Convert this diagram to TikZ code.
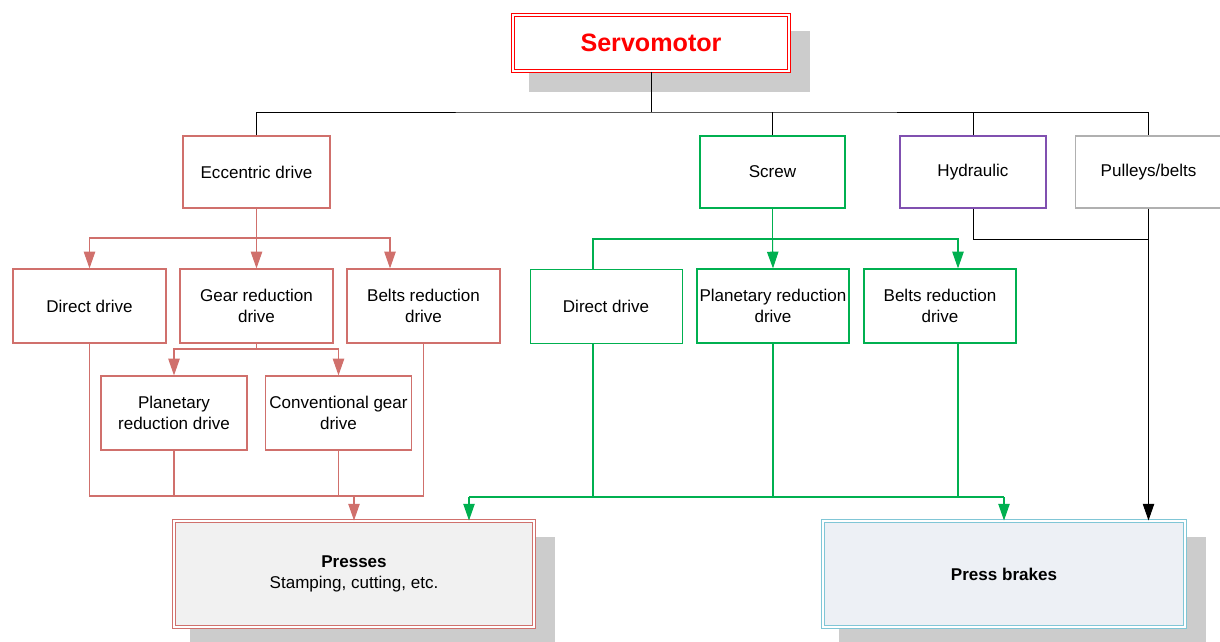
\documentclass[tikz,border=0pt]{standalone}
\usepackage{fontspec}
\setmainfont{Liberation Sans}
\usepackage{tikz}
\usetikzlibrary{shapes,arrows,arrows.meta,shadows}

\definecolor{eccred}{RGB}{208,112,108}
\definecolor{scrgreen}{RGB}{0,176,80}
\definecolor{hydpurple}{RGB}{128,80,176}
\definecolor{pulgray}{RGB}{176,176,176}
\definecolor{brkblue}{RGB}{128,198,214}
\definecolor{brkfill}{RGB}{237,240,245}
\definecolor{prsfill}{RGB}{241,241,241}
\definecolor{shadegray}{RGB}{204,204,204}

\begin{document}
\begin{tikzpicture}[x=0.02cm, y=-0.02cm,
    box/.style={draw, rectangle, line width=0.7pt, fill=white, align=center, inner sep=1pt,
        minimum width=2.94cm, minimum height=1.44cm, font=\fontsize{9.7}{11.8}\selectfont},
    ecbox/.style={box, draw=eccred},
    ecsub/.style={ecbox, minimum width=3.06cm, minimum height=1.48cm},
    scbox/.style={box, draw=scrgreen},
    scsub/.style={scbox, minimum width=3.04cm, minimum height=1.48cm},
    hybox/.style={box, draw=hydpurple},
    pubox/.style={box, draw=pulgray},
    shade/.style={drop shadow={shadow xshift=0.37cm, shadow yshift=-0.37cm,
        fill=shadegray, draw=shadegray, line width=2.4pt, opacity=1}},
    bigbox/.style={rectangle, shade, line width=0.6pt, double distance=1.2pt, align=center,
        minimum width=7.2cm, minimum height=2.12cm, font=\fontsize{9.7}{11.8}\selectfont},
    tip/.tip={Triangle[width=6.5pt, length=9.5pt]},
    tline/.style={draw=black, line width=0.5pt},
    eline/.style={draw=eccred, line width=0.6pt, -tip},
    gline/.style={draw=scrgreen, line width=0.6pt, -tip}]
    \useasboundingbox (0,0) rectangle (1220,642);

    % top level
    \node[rectangle, shade, draw=red, double=white, line width=0.6pt, double distance=1.2pt,
        fill=white, minimum width=5.52cm, minimum height=1.12cm,
        font=\fontsize{14.3}{16}\selectfont\bfseries, text=red] (servo) at (651,43) {Servomotor};
    \node[ecbox] (ecc) at (256.5,172) {Eccentric drive};
    \node[scbox, minimum width=2.9cm] (screw) at (772.5,172) {Screw};
    \node[hybox, minimum width=2.92cm] (hyd) at (973,172) {Hydraulic};
    \node[pubox, minimum width=2.92cm] (pul) at (1148.5,172) {Pulleys/belts};

    % eccentric drive branch
    \node[ecsub] (dd1) at (89.5,306) {Direct drive};
    \node[ecsub] (grd) at (256.5,306) {Gear reduction\\drive};
    \node[ecsub] (brd1) at (423.5,306) {Belts reduction\\drive};
    \node[ecsub, minimum width=2.92cm] (plan1) at (174,413) {Planetary\\reduction drive};
    \node[ecsub, minimum width=2.92cm] (conv) at (338.5,413) {Conventional gear\\drive};

    % screw branch
    \node[scsub, line width=0.5pt] (dd2) at (606,306) {Direct drive};
    \node[scsub] (plan2) at (773,306) {Planetary reduction\\drive};
    \node[scsub] (brd2) at (940,306) {Belts reduction\\drive};

    % machines
    \node[bigbox, draw=eccred, double=white, fill=prsfill] (presses) at (354,574)
        {\textbf{Presses}\\Stamping, cutting, etc.};
    \node[bigbox, draw=brkblue, double=white, fill=brkfill, minimum width=7.24cm] (brakes) at (1004,574)
        {\textbf{Press brakes}};

    % servomotor to drives
    \coordinate (top) at (651,112);
    \draw[tline] (servo.south) -- (top);
    \draw[tline] (ecc.north) |- (top) -| (pul.north);
    \draw[tline] (screw.north) -- (screw.north |- top);
    \draw[tline] (hyd.north) -- (hyd.north |- top);
    \coordinate (hp) at (1148.5,239);
    \draw[tline] (hyd.south) |- (hp);
    \draw[tline, -tip] (pul.south) -- (pul.south |- brakes.north);

    % eccentric drive
    \coordinate (e1) at (256.5,238);
    \draw[eline, -] (ecc.south) -- (e1);
    \draw[eline] (e1) -| (dd1.north);
    \draw[eline] (e1) -- (grd.north);
    \draw[eline] (e1) -| ([xshift=-0.67cm]brd1.north);
    \coordinate (e2) at (256.5,349);
    \draw[eline, -] (grd.south) -- (e2);
    \draw[eline] (e2) -| (plan1.north);
    \draw[eline] (e2) -| (conv.north);
    \coordinate (e3) at (354,496);
    \draw[eline, -] (dd1.south) |- (e3);
    \draw[eline, -] (brd1.south) |- (e3);
    \draw[eline, -] (plan1.south) -- (plan1.south |- e3);
    \draw[eline, -] (conv.south) -- (conv.south |- e3);
    \draw[eline] (e3) -- (e3 |- presses.north);

    % screw
    \coordinate (g1) at (772.5,239);
    \draw[gline, -] (screw.south) -- (g1);
    \draw[gline, -] (g1) -| ([xshift=-0.26cm]dd2.north);
    \draw[gline] (g1) -- (plan2.north);
    \draw[gline] (g1) -| ([xshift=0.36cm]brd2.north);
    \coordinate (gl) at (469,497);
    \coordinate (gr) at (1004,497);
    \draw[gline, -] ([xshift=-0.26cm]dd2.south) |- (gl);
    \draw[gline, -] (gl) -- (gr);
    \draw[gline, -] (plan2.south) -- (plan2.south |- gl);
    \draw[gline, -] ([xshift=0.36cm]brd2.south) |- (gr);
    \draw[gline] (gl) -- (gl |- presses.north);
    \draw[gline] (gr) -- (gr |- brakes.north);
\end{tikzpicture}
\end{document}
